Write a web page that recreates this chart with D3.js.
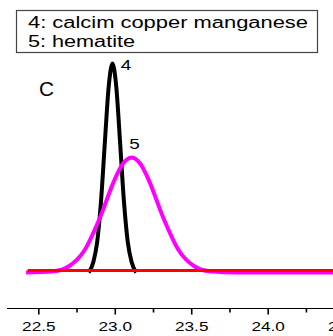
<!DOCTYPE html>
<html>
<head>
<meta charset="utf-8">
<script src="https://cdn.jsdelivr.net/npm/d3@7"></script>
<style>
  body { margin: 0; background: #fff; }
  svg { display: block; font-family: Arial, "Liberation Sans", sans-serif; }
</style>
</head>
<body>
<script>
// 2-theta positions and intensities
var blackX = [22.83, 22.86, 22.885, 22.91, 22.935, 22.96, 22.985, 23.01, 23.035, 23.06, 23.085, 23.11, 23.14];
var blackY = [0, 5, 14.6, 34, 62, 88.7, 100, 88.7, 62, 34, 14.6, 5, 0];

var magentaX = [22.42, 22.60, 22.70, 22.80, 22.90, 23.00, 23.05, 23.11, 23.17, 23.22, 23.32, 23.42, 23.52, 23.62, 23.80, 24.45];
var magentaY = [0, 0.6, 3.0, 10.4, 25.7, 44.6, 51.7, 55, 51.7, 44.6, 25.7, 10.4, 3.0, 0.6, 0, 0];

var redX = [22.43, 24.45];
var redY = [1, 1];

var majorTicks = [22.5, 23.0, 23.5, 24.0, 24.5];
var minorTicks = [22.75, 23.25, 23.75, 24.25];

var legendLines = ['4: calcim copper manganese', '5: hematite'];
var peakLabels = [
    {text: '4', x: 23.04, y: 97},
    {text: '5', x: 23.095, y: 59}
];

var width = 333,
    height = 336;

var svg = d3.select('body')
    .append('svg')
    .attr('width', width)
    .attr('height', height);

var x = d3.scaleLinear()
    .domain([22.5, 24.0])
    .range([38.3, 267.7]);

var y = d3.scaleLinear()
    .domain([0, 100])
    .range([272.5, 63.5]);

var line = d3.line()
    .x(function(d) { return x(d[0]); })
    .y(function(d) { return y(d[1]); })
    .curve(d3.curveMonotoneX);

var series = [
    {xs: blackX, ys: blackY, color: '#000000', w: 4},
    {xs: magentaX, ys: magentaY, color: '#ff00ff', w: 4},
    {xs: redX, ys: redY, color: '#ff0000', w: 3}
];

svg.selectAll('.trace')
    .data(series)
    .enter()
    .append('path')
    .attr('class', 'trace')
    .attr('fill', 'none')
    .attr('stroke', function(d) { return d.color; })
    .attr('stroke-width', function(d) { return d.w; })
    .attr('stroke-linejoin', 'round')
    .attr('d', function(d) {
        return line(d.xs.map(function(v, i) { return [v, d.ys[i]]; }));
    });

// peak numbers
svg.selectAll('.peak')
    .data(peakLabels)
    .enter()
    .append('text')
    .attr('class', 'peak')
    .attr('x', function(d) { return x(d.x); })
    .attr('y', function(d) { return y(d.y); })
    .attr('font-size', 15)
    .attr('textLength', 10.5)
    .attr('lengthAdjust', 'spacingAndGlyphs')
    .text(function(d) { return d.text; });

svg.append('text')
    .attr('x', 39)
    .attr('y', 96)
    .attr('font-size', 21)
    .attr('textLength', 15)
    .attr('lengthAdjust', 'spacingAndGlyphs')
    .text('C');

// legend box
svg.append('rect')
    .attr('x', 16.5)
    .attr('y', 10.5)
    .attr('width', 301)
    .attr('height', 42)
    .attr('fill', '#fff')
    .attr('stroke', '#444')
    .attr('stroke-width', 1.2);

svg.selectAll('.legend')
    .data(legendLines)
    .enter()
    .append('text')
    .attr('class', 'legend')
    .attr('x', 28)
    .attr('y', function(d, i) { return 27.5 + i * 19.5; })
    .attr('font-size', 16)
    .attr('textLength', function(d, i) { return i === 0 ? 280 : 107; })
    .attr('lengthAdjust', 'spacingAndGlyphs')
    .text(function(d) { return d; });

// x axis
var axisY = 308.5;
var gx = svg.append('g')
    .attr('transform', 'translate(0,' + axisY + ')');

gx.append('line')
    .attr('x1', 7).attr('x2', width)
    .attr('stroke', '#000')
    .attr('stroke-width', 1.2);

gx.call(d3.axisBottom(x)
        .tickValues(minorTicks)
        .tickSize(4)
        .tickFormat(''))
    .call(function(g) { g.select('.domain').remove(); });

var gMajor = svg.append('g')
    .attr('transform', 'translate(0,' + axisY + ')')
    .call(d3.axisBottom(x)
        .tickValues(majorTicks)
        .tickSize(6)
        .tickPadding(7)
        .tickFormat(d3.format('.1f')))
    .call(function(g) { g.select('.domain').remove(); });

svg.selectAll('.tick line')
    .attr('stroke-width', 1.6);

gMajor.selectAll('.tick text')
    .attr('font-size', 13)
    .attr('font-family', 'Arial, "Liberation Sans", sans-serif')
    .attr('fill', '#000')
    .attr('transform', 'scale(1.32,1)');
</script>
</body>
</html>
